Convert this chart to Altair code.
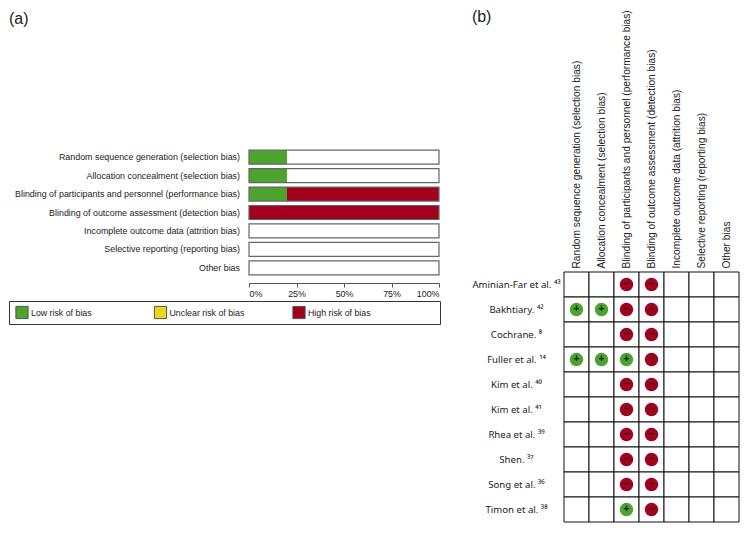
import altair as alt
import pandas as pd

# ---------------- data ----------------
domains = [
    "Random sequence generation (selection bias)",
    "Allocation concealment (selection bias)",
    "Blinding of participants and personnel (performance bias)",
    "Blinding of outcome assessment (detection bias)",
    "Incomplete outcome data (attrition bias)",
    "Selective reporting (reporting bias)",
    "Other bias",
]
low_pct = [20, 20, 20, 0, 0, 0, 0]
unclear_pct = [0, 0, 0, 0, 0, 0, 0]
high_pct = [0, 0, 80, 100, 0, 0, 0]

levels = ["Low risk of bias", "Unclear risk of bias", "High risk of bias"]
level_colors = ["#4ca42f", "#e8d61c", "#a1001f"]

studies = [
    "Aminian-Far et al. ⁴³",
    "Bakhtiary. ⁴²",
    "Cochrane. ⁸",
    "Fuller et al. ¹⁴",
    "Kim et al. ⁴⁰",
    "Kim et al. ⁴¹",
    "Rhea et al. ³⁹",
    "Shen. ³⁷",
    "Song et al. ³⁶",
    "Timon et al. ³⁸",
]
# judgement per study, one entry per domain: "+" low, "-" high, "" not shown
judgements = [
    ["", "", "-", "-", "", "", ""],
    ["+", "+", "-", "-", "", "", ""],
    ["", "", "-", "-", "", "", ""],
    ["+", "+", "+", "-", "", "", ""],
    ["", "", "-", "-", "", "", ""],
    ["", "", "-", "-", "", "", ""],
    ["", "", "-", "-", "", "", ""],
    ["", "", "-", "-", "", "", ""],
    ["", "", "-", "-", "", "", ""],
    ["", "", "+", "-", "", "", ""],
]

FONT = "Liberation Sans"
TXT = "#222"
color_of = dict(zip(levels, level_colors))
sign_color = {"+": color_of["Low risk of bias"], "-": color_of["High risk of bias"]}

# ---------------- panel (a) ----------------
bg_rows = [{"domain": d, "start": 0, "end": 100} for d in domains]
seg_rows = []
for d, lo, un, hi in zip(domains, low_pct, unclear_pct, high_pct):
    acc = 0
    for lev, v in zip(levels, [lo, un, hi]):
        if v > 0:
            seg_rows.append({"domain": d, "level": lev, "start": acc, "end": acc + v,
                             "col": color_of[lev]})
        acc += v
bg_df = pd.DataFrame(bg_rows)
seg_df = pd.DataFrame(seg_rows)

A_W = 431
yA = alt.Y("domain:N", sort=domains, axis=None,
           scale=alt.Scale(paddingInner=0.24, paddingOuter=0.12))
xA = alt.X(
    "start:Q",
    scale=alt.Scale(domain=[0, 100], nice=False, range=[240, 430]),
    axis=alt.Axis(title=None, values=[0, 25, 50, 75, 100], labelExpr="datum.value + '%'",
                  labelFlush=True, grid=False, offset=6, tickSize=4, labelFontSize=8.9,
                  labelPadding=2, domainColor="#555", tickColor="#555", labelColor=TXT),
)

bg = alt.Chart(bg_df).mark_bar(fill="white", strokeWidth=0).encode(y=yA, x=xA, x2="end:Q")
seg = alt.Chart(seg_df).mark_bar(strokeWidth=0).encode(
    y=alt.Y("domain:N", sort=domains),
    x=alt.X("start:Q"),
    x2="end:Q",
    color=alt.Color("col:N", scale=None, legend=None),
)
outline = alt.Chart(bg_df).mark_bar(fillOpacity=0, stroke="#666", strokeWidth=1.2).encode(
    y=alt.Y("domain:N", sort=domains), x=alt.X("start:Q"), x2="end:Q"
)
cat_labels = alt.Chart(bg_df).mark_text(align="right", dx=-9, fontSize=8.9, color=TXT).encode(
    y=alt.Y("domain:N", sort=domains), x=alt.X("start:Q"), text="domain:N"
)

panel_a = alt.layer(bg, seg, outline, cat_labels).properties(
    width=A_W,
    height=129,
    title=alt.TitleParams("(a)", anchor="start", frame="bounds", fontSize=16,
                          fontWeight="normal", offset=121, font=FONT, color=TXT),
)

legend_df = pd.DataFrame({"level": levels, "col": level_colors})
leg_x = alt.X("level:N", sort=levels, axis=None,
              scale=alt.Scale(type="point", range=[13, 290], padding=0))
leg_sq = alt.Chart(legend_df).mark_square(size=150, opacity=1, stroke="#555", strokeWidth=1).encode(
    x=leg_x,
    color=alt.Color("col:N", scale=None, legend=None),
)
leg_tx = alt.Chart(legend_df).mark_text(align="left", dx=9, fontSize=8.8, color=TXT).encode(
    x=leg_x, text="level:N"
)
legend_box = alt.layer(leg_sq, leg_tx).properties(
    width=A_W, height=23, view=alt.ViewBackground(stroke="#333", strokeWidth=1)
)

left = alt.vconcat(panel_a, legend_box, spacing=2)

# ---------------- panel (b) ----------------
grid_rows = []
for s, js in zip(studies, judgements):
    for d, j in zip(domains, js):
        grid_rows.append({"study": s, "domain": d, "j": j})
grid_df = pd.DataFrame(grid_rows)
mark_df = grid_df[grid_df["j"] != ""].copy()
mark_df["sym"] = mark_df["j"].map({"+": "+", "-": "−"})
mark_df["col"] = mark_df["j"].map(sign_color)

CELL_W = 25
CELL_H = 25
TOP = 124  # vertical gap between top of panel (a) plot and top of the grid
B_H = TOP + CELL_H * len(studies)

xB = alt.X("domain:N", sort=domains,
           scale=alt.Scale(paddingInner=0, paddingOuter=0),
           axis=alt.Axis(orient="top", offset=-TOP, title=None, labelAngle=270, ticks=False,
                         domain=False, labelFontSize=10.2, labelPadding=4, labelLimit=400,
                         labelColor=TXT))
yB = alt.Y("study:N", sort=studies,
           scale=alt.Scale(paddingInner=0, paddingOuter=0, range=[TOP, B_H]),
           axis=alt.Axis(title=None, ticks=False, domain=False, labelFontSize=9.6,
                         labelFont="Noto Sans", labelAlign="center", labelPadding=48,
                         labelLimit=400, labelColor=TXT))

cells = alt.Chart(grid_df).mark_rect(fill="white", stroke="#111", strokeWidth=1).encode(x=xB, y=yB)
dots = alt.Chart(mark_df).mark_circle(size=180, opacity=1).encode(
    x=alt.X("domain:N", sort=domains),
    y=alt.Y("study:N", sort=studies),
    color=alt.Color("col:N", scale=None, legend=None),
)
signs = alt.Chart(mark_df).mark_text(fontSize=10, fontWeight="bold", color="#111", dy=-0.5).encode(
    x=alt.X("domain:N", sort=domains),
    y=alt.Y("study:N", sort=studies),
    text="sym:N",
)

panel_b = alt.layer(cells, dots, signs).properties(
    width=CELL_W * len(domains),
    height=B_H,
    title=alt.TitleParams("(b)", anchor="start", frame="bounds", fontSize=16,
                          fontWeight="normal", offset=-15, font=FONT, color=TXT),
)

chart = alt.hconcat(left, panel_b, spacing=30).properties(
    padding={"left": 0, "top": 0, "right": 0, "bottom": 0}
).configure(font=FONT).configure_view(stroke=None)

chart.save("out.html", embed_options={"renderer": "svg", "actions": False})
